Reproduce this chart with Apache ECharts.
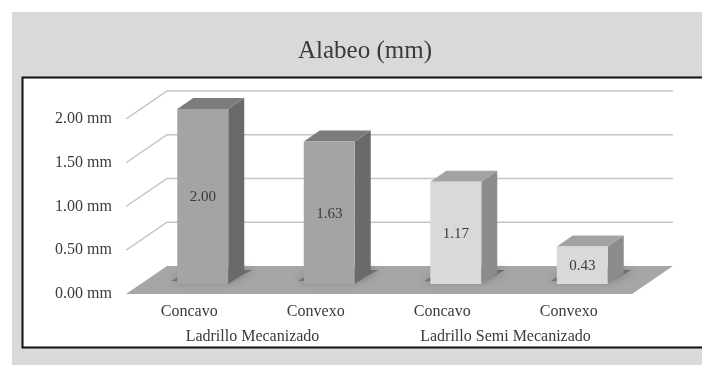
<!DOCTYPE html>
<html>
<head>
<meta charset="utf-8">
<script src="https://cdn.jsdelivr.net/npm/echarts@6/dist/echarts.min.js"></script>
<style>
  html, body { margin: 0; padding: 0; background: #ffffff; }
  #chart { width: 702px; height: 365px; }
</style>
</head>
<body>
<div id="chart"></div>
<script>
// Warping measurements per brick type and face
const categories = ['Concavo', 'Convexo', 'Concavo', 'Convexo'];
const groups = ['Ladrillo Mecanizado', 'Ladrillo Semi Mecanizado'];
const barGroup = [0, 0, 1, 1];
const values = [2.00, 1.63, 1.17, 0.43];
const yTicks = [0, 0.5, 1.0, 1.5, 2.0];

const FONT = '"Liberation Serif", "DejaVu Serif", serif';
const TEXT = '#3a3a3a';

// Pseudo-3D projection: the grid is the front plane of the floor,
// depth runs up and to the right.
const DEPTH = [41, -28];        // floor front edge -> back wall
const BAR_SHIFT = [13.5, -10];  // floor front edge -> bar front face
const BAR_DEPTH = [16, -11];    // bar front face -> bar back face
const BAR_FRAC = 0.403;         // bar width as share of a category slot

// Face colours for each brick group: [front, top, side]
const groupFaces = [
  ['#a4a4a4', '#7c7c7c', '#6a6a6a'],
  ['#d9d9d9', '#a3a3a3', '#8c8c8c']
];

function slotEdges(api, v) {
  const bw = api.size([1, 0])[0];
  const left = api.coord([0, v])[0] - bw / 2;
  const right = api.coord([categories.length - 1, v])[0] + bw / 2;
  return { left, right, y: api.coord([0, v])[1] };
}

function renderWall(params, api) {
  const v = api.value(1);
  const e = slotEdges(api, v);
  const [dx, dy] = DEPTH;
  if (v === 0) {
    return {
      type: 'polygon',
      shape: { points: [[e.left, e.y], [e.right, e.y], [e.right + dx, e.y + dy], [e.left + dx, e.y + dy]] },
      style: { fill: '#a6a6a6' }
    };
  }
  return {
    type: 'polyline',
    shape: { points: [[e.left, e.y], [e.left + dx, e.y + dy], [e.right + dx, e.y + dy]] },
    style: { stroke: '#c4c4c4', lineWidth: 1.5, fill: null }
  };
}

function barBox(api) {
  const i = api.value(0);
  const v = api.value(1);
  const bw = api.size([1, 0])[0];
  const c0 = api.coord([i, 0]);
  const c1 = api.coord([i, v]);
  const w = bw * BAR_FRAC;
  const xl = c0[0] - w / 2 + BAR_SHIFT[0];
  return { i, v, xl, xr: xl + w, yb: c0[1] + BAR_SHIFT[1], yt: c1[1] + BAR_SHIFT[1] };
}

// Soft contact shadow on the floor, mostly behind each bar
function renderShadow(params, api) {
  const b = barBox(api);
  const [dx, dy] = BAR_DEPTH;
  return {
    type: 'polygon',
    shape: { points: [[b.xl - 6, b.yb - 3], [b.xr + 2, b.yb - 3], [b.xr + dx + 8, b.yb + dy - 3], [b.xl + dx - 2, b.yb + dy - 3]] },
    style: { fill: 'rgba(80,80,80,0.6)', shadowBlur: 8, shadowColor: 'rgba(50,50,50,0.8)' }
  };
}

function renderBar(params, api) {
  const b = barBox(api);
  const [dx, dy] = BAR_DEPTH;
  const faces = groupFaces[barGroup[b.i]];
  return {
    type: 'group',
    children: [
      {
        type: 'polygon',
        shape: { points: [[b.xr, b.yt], [b.xr + dx, b.yt + dy], [b.xr + dx, b.yb + dy], [b.xr, b.yb]] },
        style: { fill: faces[2] }
      },
      {
        type: 'polygon',
        shape: { points: [[b.xl, b.yt], [b.xr, b.yt], [b.xr + dx, b.yt + dy], [b.xl + dx, b.yt + dy]] },
        style: { fill: faces[1] }
      },
      {
        type: 'rect',
        shape: { x: b.xl, y: b.yt, width: b.xr - b.xl, height: b.yb - b.yt },
        style: { fill: faces[0] }
      },
      {
        type: 'text',
        x: (b.xl + b.xr) / 2,
        y: (b.yt + b.yb) / 2 + 1,
        style: {
          text: b.v.toFixed(2),
          align: 'center',
          verticalAlign: 'middle',
          font: '15px ' + FONT,
          fill: TEXT
        }
      }
    ]
  };
}

const chart = echarts.init(document.getElementById('chart'), null, { renderer: 'canvas' });

chart.setOption({
  backgroundColor: '#ffffff',
  animation: false,
  title: {
    text: 'Alabeo (mm)',
    left: 293,
    top: 34,
    textStyle: { fontFamily: FONT, fontSize: 25, fontWeight: 'normal', color: TEXT }
  },
  graphic: [
    { type: 'rect', z: -20, shape: { x: 12, y: 12, width: 700, height: 360 }, style: { fill: '#d9d9d9' } },
    { type: 'rect', z: -19, shape: { x: 22.5, y: 77.5, width: 700, height: 270 }, style: { fill: '#ffffff', stroke: '#111111', lineWidth: 2 } }
  ],
  grid: { left: 126, right: 70, top: 119, bottom: 71 },
  xAxis: [
    {
      type: 'category',
      data: categories,
      position: 'bottom',
      axisLine: { show: false },
      axisTick: { show: false },
      axisLabel: { margin: 10, fontFamily: FONT, fontSize: 16, color: TEXT }
    },
    {
      type: 'category',
      data: groups,
      position: 'bottom',
      offset: 25,
      axisLine: { show: false },
      axisTick: { show: false },
      axisLabel: { margin: 10, fontFamily: FONT, fontSize: 16, color: TEXT }
    }
  ],
  yAxis: {
    type: 'value',
    min: 0,
    max: 2,
    interval: 0.5,
    axisLine: { show: false },
    axisTick: { show: false },
    splitLine: { show: false },
    axisLabel: {
      margin: 14,
      fontFamily: FONT,
      fontSize: 16,
      color: TEXT,
      formatter: v => v.toFixed(2) + ' mm'
    }
  },
  series: [
    {
      type: 'custom',
      name: 'walls',
      clip: false,
      z: 1,
      silent: true,
      renderItem: renderWall,
      data: yTicks.map(v => [0, v])
    },
    {
      type: 'custom',
      name: 'shadows',
      clip: false,
      z: 2,
      silent: true,
      renderItem: renderShadow,
      data: values.map((v, i) => [i, v])
    },
    {
      type: 'custom',
      name: 'Alabeo',
      clip: false,
      z: 3,
      renderItem: renderBar,
      data: values.map((v, i) => [i, v])
    }
  ]
});
</script>
</body>
</html>
